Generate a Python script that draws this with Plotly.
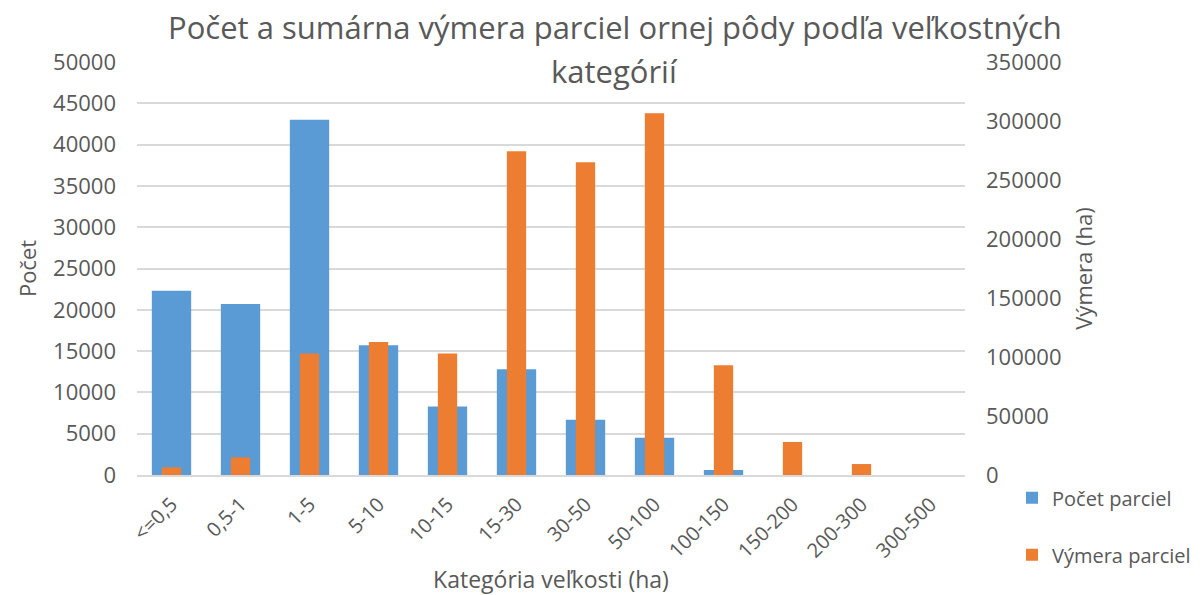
import plotly.graph_objects as go

categories = ["<=0,5", "0,5-1", "1-5", "5-10", "10-15", "15-30", "30-50",
              "50-100", "100-150", "150-200", "200-300", "300-500"]
pocet_parciel = [22300, 20700, 43000, 15700, 8300, 12800, 6700, 4500, 600, 0, 0, 0]
vymera_parciel = [6500, 15000, 103000, 112700, 103000, 274300, 265000, 306500,
                  93000, 28000, 9300, 0]

left_ticks = list(range(0, 50001, 5000))
right_ticks = list(range(0, 350001, 50000))

FONT = "Open Sans"
GRAY = "#595959"
GRID = "#D9D9D9"

# page body has an 8px margin; figure origin is at (8, 8) in the page
W, H = 1196, 587
L, T, PW, PH = 129, 54, 828, 413
R, B = W - L - PW, H - T - PH

fig = go.Figure()
fig.add_trace(go.Bar(
    x=categories, y=pocet_parciel, name="Počet parciel",
    marker=dict(color="#5B9BD5", line=dict(width=0)), width=0.57,
    legendgroup="a", yaxis="y"))
fig.add_trace(go.Bar(
    x=categories, y=vymera_parciel, name="Výmera parciel",
    marker=dict(color="#ED7D31", line=dict(width=0)), width=0.28,
    legendgroup="b", yaxis="y2"))

title_font = dict(size=31, color=GRAY, family=FONT)

fig.update_layout(
    width=W, height=H,
    paper_bgcolor="white", plot_bgcolor="white",
    barmode="overlay",
    font=dict(family=FONT, color=GRAY, size=18),
    margin=dict(l=L, r=R, t=T, b=B, autoexpand=False),
    annotations=[
        dict(text="Počet a sumárna výmera parciel ornej pôdy podľa veľkostných",
             x=(607 - L) / PW, xref="paper", y=1 + (T - 19) / PH, yref="paper",
             yanchor="middle", xanchor="center", showarrow=False, font=title_font),
        dict(text="kategórií",
             x=(606 - L) / PW, xref="paper", y=1 + (62 - 71) / PH, yref="paper",
             yanchor="middle", xanchor="center", showarrow=False, font=title_font),
    ],
    xaxis=dict(
        tickangle=-45, tickfont=dict(size=20, color=GRAY), ticklabelstandoff=8,
        showline=True, linecolor=GRID, linewidth=1.5,
        ticks="", showgrid=False,
        title=dict(text="Kategória veľkosti (ha)", font=dict(size=23, color=GRAY), standoff=2),
    ),
    yaxis=dict(
        range=[0, 50000], tickvals=left_ticks, ticktext=[str(v) for v in left_ticks],
        showgrid=True, gridcolor=GRID, gridwidth=1.5, zeroline=False,
        tickfont=dict(size=22, color=GRAY), ticks="", ticklabelstandoff=20,
        title=dict(text="Počet", font=dict(size=22, color=GRAY), standoff=10),
    ),
    yaxis2=dict(
        range=[0, 350000], tickvals=right_ticks, ticktext=[str(v) for v in right_ticks],
        overlaying="y", side="right", showgrid=False, zeroline=False,
        tickfont=dict(size=22, color=GRAY), ticks="", ticklabelstandoff=20,
        title=dict(text="Výmera (ha)", font=dict(size=22, color=GRAY), standoff=16),
    ),
    legend=dict(x=(1004 - L) / PW, xanchor="left", y=-0.008, yanchor="top",
                traceorder="grouped", tracegroupgap=28,
                font=dict(size=20, color=GRAY), itemwidth=30,
                bgcolor="rgba(0,0,0,0)"),
)

fig.write_html("out.html")
